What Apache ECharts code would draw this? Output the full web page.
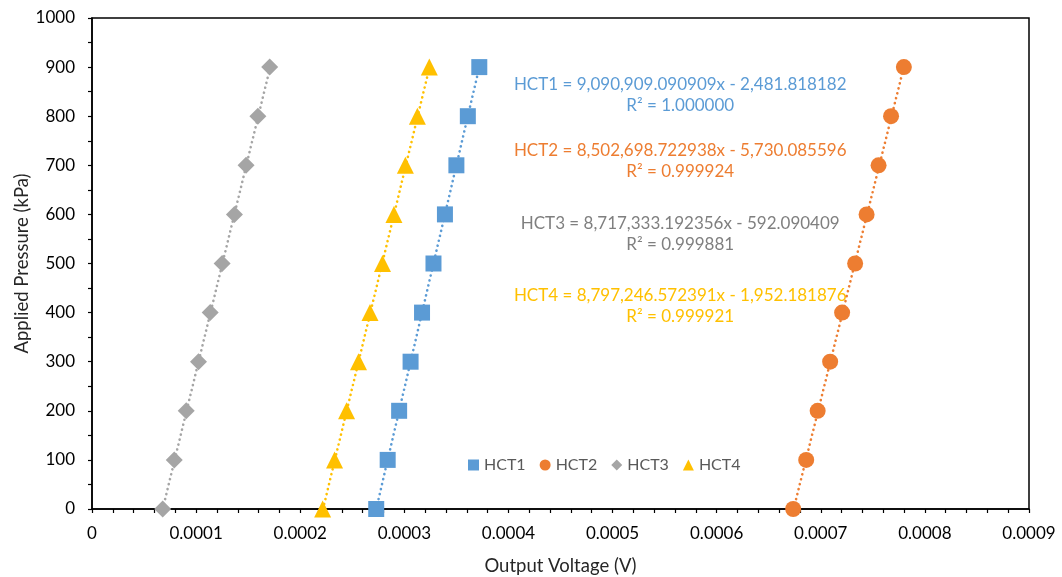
<!DOCTYPE html>
<html>
<head>
<meta charset="utf-8">
<script src="https://cdn.jsdelivr.net/npm/echarts@6/dist/echarts.min.js"></script>
<style>
  html, body { margin: 0; padding: 0; background: #ffffff; }
  #chart { width: 1062px; height: 577px; }
</style>
</head>
<body>
<div id="chart"></div>
<script>
// Applied pressure steps (kPa), shared by every sensor
const pressure = [0, 100, 200, 300, 400, 500, 600, 700, 800, 900];

// Output voltage (V) measured at each pressure step
const hct1 = [0.000273, 0.000284, 0.000295, 0.000306, 0.000317, 0.000328, 0.000339, 0.000350, 0.000361, 0.000372];
const hct2 = [0.0006735, 0.0006860, 0.0006970, 0.0007090, 0.0007205, 0.0007330, 0.0007440, 0.0007555, 0.0007675, 0.0007798];
const hct3 = [0.0000679, 0.0000790, 0.0000905, 0.0001023, 0.0001135, 0.0001250, 0.0001368, 0.0001480, 0.0001593, 0.0001707];
const hct4 = [0.0002215, 0.0002330, 0.0002445, 0.0002560, 0.0002670, 0.0002790, 0.0002900, 0.0003010, 0.0003125, 0.0003240];

const names = ['HCT1', 'HCT2', 'HCT3', 'HCT4'];

// Linear fit coefficients (pressure = slope * voltage + intercept) and R²
const slopes = [9090909.090909, 8502698.722938, 8717333.192356, 8797246.572391];
const intercepts = [-2481.818182, -5730.085596, -592.090409, -1952.181876];
const rSquared = ['1.000000', '0.999924', '0.999881', '0.999921'];

// Equation label rows (pressure units, anchored in data space)
const labelPressure = [843, 708, 561, 413];

const colors = ['#5B9BD5', '#ED7D31', '#A5A5A5', '#FFC000'];
const textColors = ['#5B9BD5', '#ED7D31', '#7F7F7F', '#FFC000'];
const symbols = ['rect', 'circle', 'diamond', 'triangle'];
const symbolSizes = [16, 16, 17, 17];
const seriesData = [hct1, hct2, hct3, hct4];

const font = 'Lato, "Open Sans", "Noto Sans", sans-serif';

function fmt(n, d) {
  return Math.abs(n).toLocaleString('en-US', { minimumFractionDigits: d, maximumFractionDigits: d });
}

const series = [];

// Dotted trendlines spanning the measured pressure range
names.forEach((name, i) => {
  const pLo = pressure[0], pHi = pressure[pressure.length - 1];
  series.push({
    name: name + ' trend',
    type: 'line',
    data: [
      [(pLo - intercepts[i]) / slopes[i], pLo],
      [(pHi - intercepts[i]) / slopes[i], pHi]
    ],
    symbol: 'none',
    silent: true,
    z: 1,
    lineStyle: { color: colors[i], width: 2.6, type: [0.1, 5], cap: 'round' }
  });
});

// Measured points
names.forEach((name, i) => {
  series.push({
    name: name,
    type: 'scatter',
    data: seriesData[i].map((v, k) => [v, pressure[k]]),
    symbol: symbols[i],
    symbolSize: symbolSizes[i],
    itemStyle: { color: colors[i], opacity: 1 },
    z: 3
  });
});

const chart = echarts.init(document.getElementById('chart'), null, { renderer: 'canvas' });

const option = {
  backgroundColor: '#ffffff',
  animation: false,
  grid: {
    left: 92, right: 33, top: 18, bottom: 68,
    containLabel: false, outerBoundsMode: 'none',
    show: true, borderColor: '#000000', borderWidth: 1.5, backgroundColor: 'transparent'
  },
  legend: {
    data: names.map((n, i) => ({ name: n, icon: symbols[i] })),
    top: 452, left: 463,
    itemWidth: 11, itemHeight: 11, itemGap: 14,
    textStyle: { fontFamily: font, fontSize: 16, color: '#595959' }
  },
  xAxis: {
    type: 'value', min: 0, max: 0.0009, interval: 0.0001,
    name: 'Output Voltage (V)', nameLocation: 'middle', nameGap: 48,
    nameMoveOverlap: false,
    nameTextStyle: { fontFamily: font, fontSize: 18.5, color: '#262626' },
    axisLine: { show: true, onZero: false, lineStyle: { color: '#000000', width: 1.5 } },
    axisTick: { show: true, inside: false, length: 4, lineStyle: { color: '#000000', width: 1.2 } },
    minorTick: { show: true, splitNumber: 5, length: 4, lineStyle: { color: '#000000', width: 1.2 } },
    splitLine: { show: false },
    axisLabel: {
      fontFamily: font, fontSize: 17, color: '#000000', margin: 16,
      formatter: v => (v === 0 ? '0' : v.toFixed(4))
    }
  },
  yAxis: {
    type: 'value', min: 0, max: 1000, interval: 100,
    name: 'Applied Pressure (kPa)', nameLocation: 'middle', nameGap: 60,
    nameMoveOverlap: false,
    nameTextStyle: { fontFamily: font, fontSize: 18.5, color: '#262626' },
    axisLine: { show: true, onZero: false, lineStyle: { color: '#000000', width: 1.5 } },
    axisTick: { show: true, inside: false, length: 4, lineStyle: { color: '#000000', width: 1.2 } },
    minorTick: { show: true, splitNumber: 2, length: 4, lineStyle: { color: '#000000', width: 1.2 } },
    splitLine: { show: false },
    axisLabel: { fontFamily: font, fontSize: 17, color: '#000000', margin: 17, formatter: v => String(v) }
  },
  series: series
};

chart.setOption(option);

// Regression equation text for each sensor, placed once axes are laid out
const graphic = names.map((name, i) => {
  const pt = chart.convertToPixel({ gridIndex: 0 }, [0.000565, labelPressure[i]]);
  const sign = intercepts[i] < 0 ? ' - ' : ' + ';
  return {
    type: 'text',
    x: pt[0], y: pt[1],
    style: {
      text: name + ' = ' + fmt(slopes[i], 6) + 'x' + sign + fmt(intercepts[i], 6) + '\nR² = ' + rSquared[i],
      fill: textColors[i],
      font: '17px ' + font,
      align: 'center', verticalAlign: 'middle', lineHeight: 21
    }
  };
});
chart.setOption({ graphic: graphic });
</script>
</body>
</html>
